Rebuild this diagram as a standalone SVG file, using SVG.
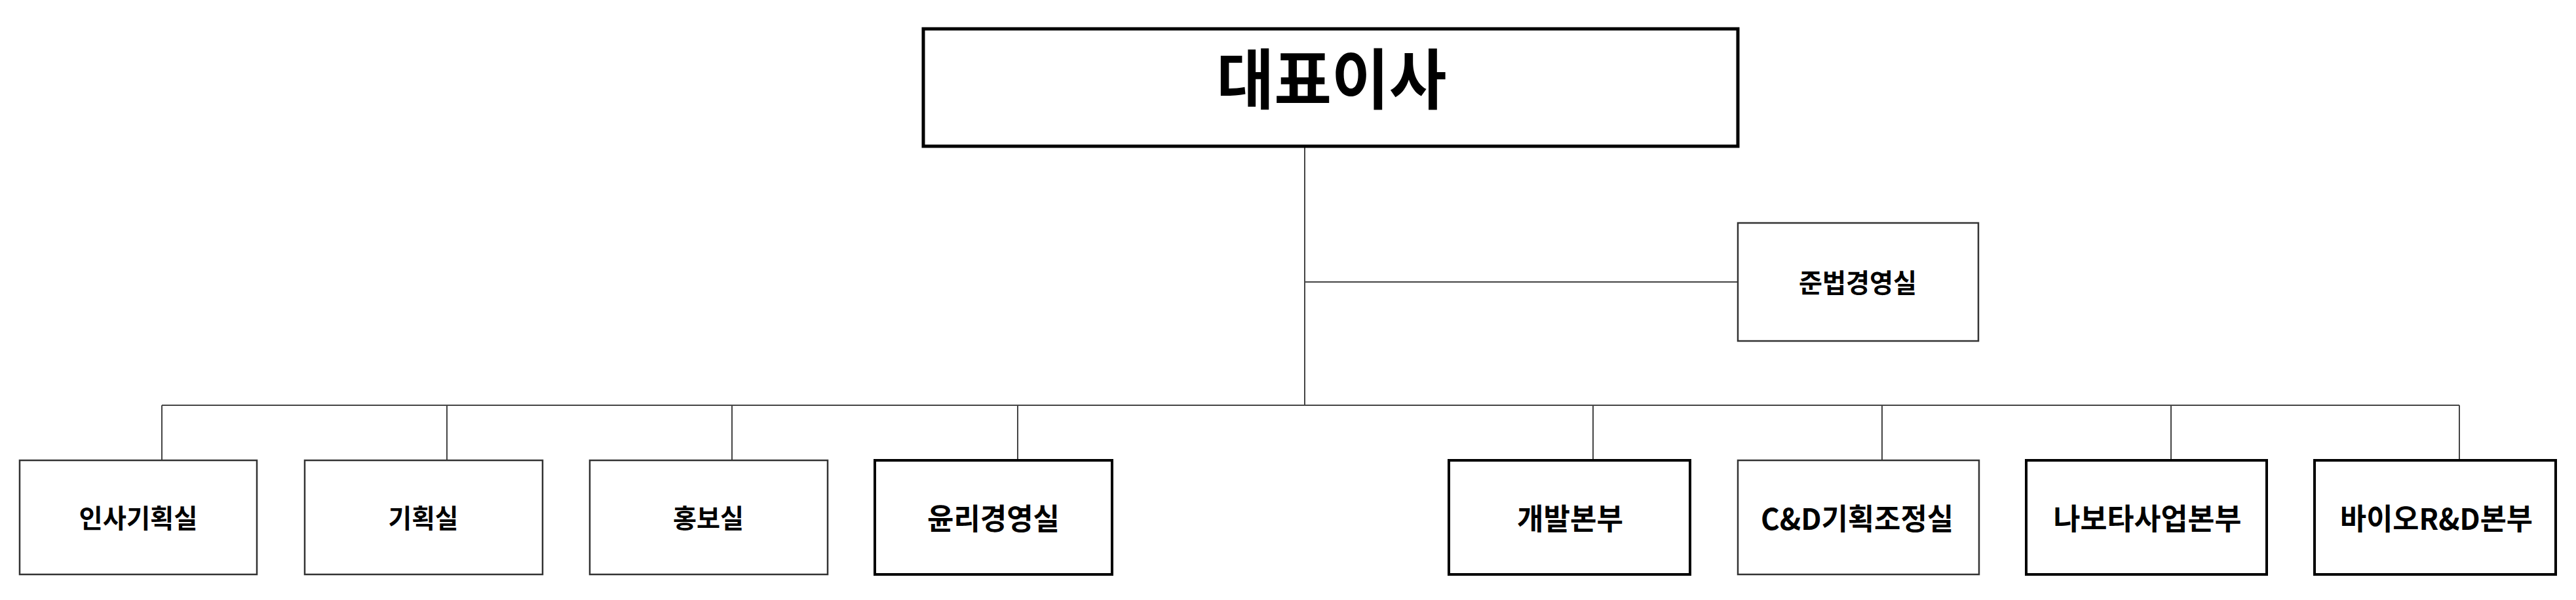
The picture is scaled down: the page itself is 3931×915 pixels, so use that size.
<svg xmlns="http://www.w3.org/2000/svg" width="3931" height="915" viewBox="0 0 3931 915">
<style>
.bg{fill:#fff}
.thin{fill:#fff;stroke:#333;stroke-width:2.5}
.thick{fill:#fff;stroke:#000;stroke-width:4}
.top{fill:#fff;stroke:#000;stroke-width:5}
.conn{fill:none;stroke:#444;stroke-width:2}
text{font-family:"Noto Sans CJK KR","Noto Sans",sans-serif;font-weight:700;fill:#000;text-anchor:middle}
.t40{font-size:40px}
.t45{font-size:45px}
.t100{font-size:100px}
</style>
<rect class="bg" x="0" y="0" width="3931" height="915"/>
<g id="connectors">
<path class="conn" d="M1991 223 V618"/>
<path class="conn" d="M1991 430 H2652"/>
<path class="conn" d="M247 618 H3753"/>
<path class="conn" d="M247 618 V702"/>
<path class="conn" d="M682 618 V702"/>
<path class="conn" d="M1117 618 V702"/>
<path class="conn" d="M1553 618 V702"/>
<path class="conn" d="M2431 618 V702"/>
<path class="conn" d="M2872 618 V702"/>
<path class="conn" d="M3313 618 V702"/>
<path class="conn" d="M3753 618 V702"/>
</g>
<g id="ceo">
<rect class="top" x="1409" y="44" width="1243" height="179"/>
<text class="t100" x="2032" y="158" textLength="351" lengthAdjust="spacingAndGlyphs">대표이사</text>
</g>
<g id="compliance">
<rect class="thin" x="2652" y="340" width="367" height="180"/>
<text class="t40" x="2835" y="446" textLength="180" lengthAdjust="spacingAndGlyphs">준법경영실</text>
</g>
<g id="hr">
<rect class="thin" x="30" y="702" width="362" height="174"/>
<text class="t40" x="211" y="805" textLength="181" lengthAdjust="spacingAndGlyphs">인사기획실</text>
</g>
<g id="planning">
<rect class="thin" x="465" y="702" width="363" height="174"/>
<text class="t40" x="646" y="805" textLength="107" lengthAdjust="spacingAndGlyphs">기획실</text>
</g>
<g id="pr">
<rect class="thin" x="900" y="702" width="363" height="174"/>
<text class="t40" x="1081" y="805" textLength="108" lengthAdjust="spacingAndGlyphs">홍보실</text>
</g>
<g id="ethics">
<rect class="thick" x="1335" y="702" width="362" height="174"/>
<text class="t45" x="1516" y="808" textLength="202" lengthAdjust="spacingAndGlyphs">윤리경영실</text>
</g>
<g id="dev">
<rect class="thick" x="2211" y="702" width="368" height="174"/>
<text class="t45" x="2396" y="808" textLength="162" lengthAdjust="spacingAndGlyphs">개발본부</text>
</g>
<g id="cd">
<rect class="thin" x="2652" y="702" width="368" height="174"/>
<text class="t45" x="2834" y="808" textLength="294" lengthAdjust="spacingAndGlyphs">C&amp;D기획조정실</text>
</g>
<g id="nabota">
<rect class="thick" x="3092" y="702" width="367" height="174"/>
<text class="t45" x="3277" y="808" textLength="287" lengthAdjust="spacingAndGlyphs">나보타사업본부</text>
</g>
<g id="bio">
<rect class="thick" x="3532" y="702" width="368" height="174"/>
<text class="t45" x="3718" y="808" textLength="294" lengthAdjust="spacingAndGlyphs">바이오R&amp;D본부</text>
</g>
</svg>
